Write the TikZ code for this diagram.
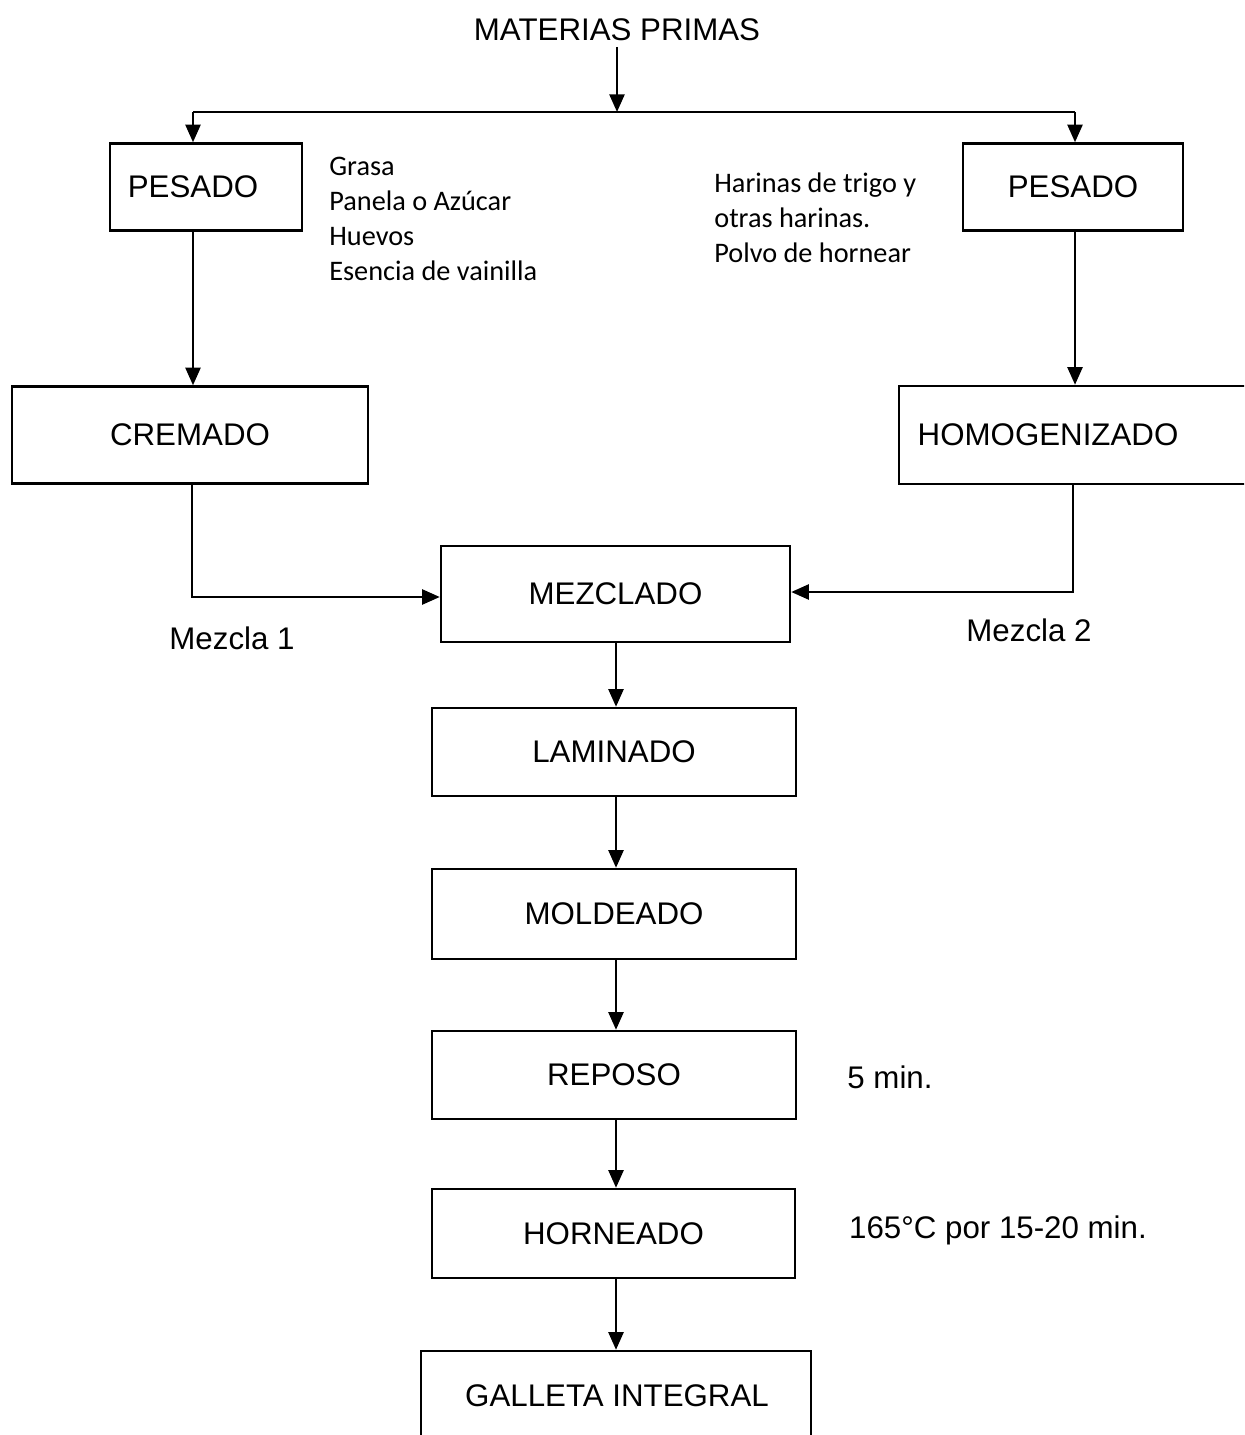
\documentclass[tikz,border=0pt]{standalone}
\usepackage{fontspec}
\setmainfont{Liberation Sans}
\newfontfamily\notefont{Carlito}
\usetikzlibrary{arrows.meta}
\begin{document}
\begin{tikzpicture}[x=0.02cm,y=-0.02cm,
  proc/.style={draw,line width=1.4pt,inner sep=0pt,font=\fontsize{17.8}{20}\selectfont},
  lbl/.style={inner sep=0pt,font=\fontsize{17.8}{20}\selectfont},
  note/.style={inner sep=0pt,align=left,anchor=north west,font=\notefont\fontsize{16.1}{19.8}\selectfont},
  flow/.style={line width=1.4pt,-{Triangle[width=8.5pt,length=10pt]}},
  link/.style={line width=1.4pt}]
\useasboundingbox (0,0) rectangle (1244,1435);
\clip (0,0) rectangle (1244,1435);

% process boxes
\node[proc,minimum width=192*0.02cm,minimum height=87*0.02cm] (pes1) at (206,187) {};
\node[lbl] at (193,187) {PESADO};
\node[proc,minimum width=220*0.02cm,minimum height=87*0.02cm] (pes2) at (1073,187) {PESADO};
\node[proc,minimum width=356*0.02cm,minimum height=97*0.02cm] (crem) at (190,435) {CREMADO};
\node[proc,minimum width=351*0.02cm,minimum height=98*0.02cm] (homo) at (1074.5,435) {};
\node[lbl] at (1048,435) {HOMOGENIZADO};
\node[proc,minimum width=349*0.02cm,minimum height=96*0.02cm] (mezc) at (615.5,594) {MEZCLADO};
\node[proc,minimum width=364*0.02cm,minimum height=88*0.02cm] (lami) at (614,752) {LAMINADO};
\node[proc,minimum width=364*0.02cm,minimum height=90*0.02cm] (mold) at (614,914) {MOLDEADO};
\node[proc,minimum width=364*0.02cm,minimum height=88*0.02cm] (repo) at (614,1075) {REPOSO};
\node[proc,minimum width=363*0.02cm,minimum height=89*0.02cm] (horn) at (613.5,1233.5) {HORNEADO};
\node[proc,minimum width=390*0.02cm,minimum height=130*0.02cm] (gall) at (616,1416) {};
\node[lbl] at (617,1396) {GALLETA INTEGRAL};

% title and side labels
\node[lbl] (mp) at (617,30) {MATERIAS PRIMAS};
\node[lbl] (m1) at (232,638) {Mezcla 1};
\node[lbl] (m2) at (1029,630) {Mezcla 2};
\node[lbl] (t1) at (890,1077) {5 min.};
\node[lbl] (t2) at (998,1230) {165°C por 15-20 min.};

% ingredient lists
\node[note] (ing1) at (329,157) {Grasa\\Panela o Azúcar\\Huevos\\Esencia de vainilla};
\node[note] (ing2) at (714,173) {Harinas de trigo y\\otras harinas.\\Polvo de hornear};

% branching from raw materials
\coordinate (split) at (617,112);
\draw[flow] (617,47) -- (split);
\draw[link] (193,112) -- (1075,112);
\draw[flow] (193,112) -- (pes1.north -| 193,0);
\draw[flow] (1075,112) -- (pes2.north -| 1075,0);

% two preparation lines
\draw[flow] (pes1.south -| 193,0) -- (crem.north -| 193,0);
\draw[flow] (pes2.south -| 1075,0) -- (homo.north -| 1075,0);
\draw[flow] (crem.south -| 192,0) |- (mezc.west |- 0,597);
\draw[flow] (homo.south -| 1073,0) |- (mezc.east |- 0,592);

% main sequence
\draw[flow] (mezc.south -| 616,0) -- (lami.north -| 616,0);
\draw[flow] (lami.south -| 616,0) -- (mold.north -| 616,0);
\draw[flow] (mold.south -| 616,0) -- (repo.north -| 616,0);
\draw[flow] (repo.south -| 616,0) -- (horn.north -| 616,0);
\draw[flow] (horn.south -| 616,0) -- (gall.north -| 616,0);
\end{tikzpicture}
\end{document}
